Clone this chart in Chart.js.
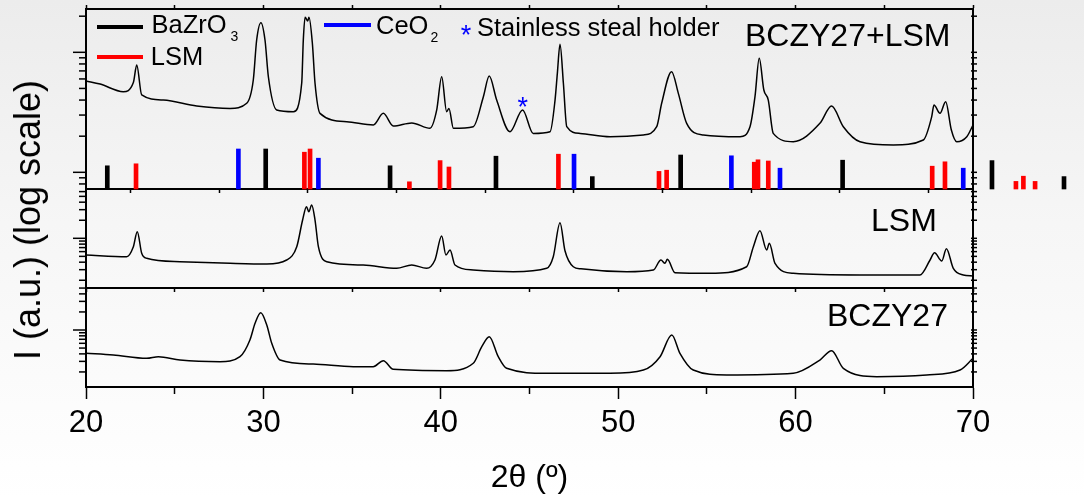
<!DOCTYPE html>
<html>
<head>
<meta charset="utf-8">
<title>XRD - BCZY27, LSM, BCZY27+LSM</title>
<script src="https://cdn.jsdelivr.net/npm/chart.js@4.4.1/dist/chart.umd.min.js"></script>
<style>
  html, body { margin: 0; padding: 0; }
  body { width: 1084px; height: 498px; overflow: hidden; font-family: "Liberation Sans", Arial, sans-serif; }
  #figure { position: relative; width: 1084px; height: 498px;
    background: linear-gradient(to bottom, #ececec 0%, #f6f6f6 45%, #ffffff 100%); }
  #figure canvas { position: absolute; left: 0; }
  .txt { position: absolute; line-height: 1; white-space: nowrap; color: #000; }
  .sub { position: relative; font-size: 14px; top: 8px; }
  .key { position: absolute; height: 4px; }
  .star { position: absolute; line-height: 1; font-size: 27px; color: #0000ff; }
</style>
</head>
<body>
<div id="figure">
  <canvas id="panel-mix" width="1084" height="200" style="top:0"></canvas>
  <canvas id="panel-lsm" width="1084" height="120" style="top:180px"></canvas>
  <canvas id="panel-bczy" width="1084" height="220" style="top:278px"></canvas>

  <!-- legend -->
  <div class="key" style="left:97px; top:25px; width:46px; background:#000"></div>
  <div class="txt" style="left:151.5px; top:11.7px; font-size:25.5px">BaZrO<span class="sub" style="margin-left:4px">3</span></div>
  <div class="key" style="left:97px; top:55px; width:46px; background:#ff0000"></div>
  <div class="txt" style="left:150.8px; top:44.4px; font-size:25.5px">LSM</div>
  <div class="key" style="left:324px; top:23px; width:47px; background:#0000ff"></div>
  <div class="txt" style="left:376px; top:13.4px; font-size:25.5px">CeO<span class="sub" style="margin-left:2px">2</span></div>
  <div class="star" style="left:460.7px; top:22.2px">*</div>
  <div class="txt" style="left:477px; top:15px; font-size:25.5px">Stainless steal holder</div>

  <!-- panel labels -->
  <div class="txt" style="left:745px; top:18.5px; font-size:32px">BCZY27+LSM</div>
  <div class="txt" style="left:871px; top:204.1px; font-size:32px">LSM</div>
  <div class="txt" style="left:827px; top:299.1px; font-size:32px">BCZY27</div>
  <div class="star" style="left:517.4px; top:94.4px">*</div>

  <div class="txt" style="left:28.3px; top:220px; font-size:36px; transform:translate(-50%,-50%) rotate(-90deg)">I (a.u.) (log scale)</div>
</div>

<script>
// --- data ---
const xTickValues = [20, 25, 30, 35, 40, 45, 50, 55, 60, 65, 70];
const xTickLabels = ['20', '', '30', '', '40', '', '50', '', '60', '', '70'];

// BCZY27+LSM (top panel)
const mixX = [20.0, 20.8, 22.1, 22.67, 22.86, 23.14, 24.36, 26.24, 28.12, 29.06, 29.43, 29.62, 29.86, 30.09, 30.28, 30.75,
  31.69, 32.16, 32.25, 32.35, 32.5, 32.57, 32.76, 32.91, 33.19, 34.7, 36.2, 36.76, 37.32, 38.36, 39.39, 39.77, 40.05,
  40.33, 40.46, 40.71, 41.83, 42.4, 42.73, 43.15, 43.9, 44.61, 45.21, 46.16, 46.44, 46.57, 46.72, 46.91, 47.1, 47.85,
  49.54, 51.42, 52.17, 52.45, 53.01, 53.39, 53.86, 54.8, 56.87, 57.43, 57.71, 57.95, 58.21, 58.46, 58.74, 59.87, 61.37,
  62.03, 62.69, 63.63, 65.51, 67.2, 67.67, 67.8, 68.14, 68.46, 68.78, 69.08, 69.65, 70.0];
const mixI = [577, 544, 470, 560, 784, 441, 400, 357, 341, 376, 588, 1266, 1766, 1266, 626, 331,
  320, 555, 1266, 1958, 1823, 1958, 1189, 552, 310, 264, 248, 310, 243, 258, 233, 331, 626,
  320, 341, 233, 240, 427, 634, 400, 218, 331, 211, 218, 400, 668, 1166, 552, 240, 211,
  198, 205, 240, 376, 690, 455, 256, 205, 198, 240, 427, 891, 485, 400, 211, 180, 256,
  357, 240, 180, 169, 186, 290, 364, 310, 388, 225, 180, 198, 248];

// LSM (middle panel)
const lsmX = [20.0, 22.29, 22.67, 22.89, 23.14, 23.42, 25.3, 28.12, 30.19, 31.31, 31.88, 32.21, 32.43, 32.56, 32.72,
  32.91, 33.1, 33.57, 35.63, 37.51, 38.36, 39.2, 39.67, 40.05, 40.29, 40.52, 40.8, 41.83, 44.09, 45.97, 46.34, 46.72,
  47.0, 47.47, 47.9, 50.48, 51.98, 52.41, 52.64, 52.77, 53.2, 55.17, 57.24, 57.62, 57.99, 58.37, 58.52, 58.84, 59.87,
  63.63, 67.01, 67.58, 67.83, 68.24, 68.5, 68.89, 69.45, 70.0];
const lsmI = [527, 493, 724, 1288, 562, 464, 407, 383, 373, 435, 724, 2018, 3365, 2775, 3589,
  2018, 724, 407, 359, 316, 359, 316, 435, 1092, 527, 638, 359, 296, 277, 316, 493, 1820,
  620, 336, 310, 277, 296, 435, 383, 447, 267, 261, 336, 724, 1340, 638, 826, 383, 261,
  245, 245, 435, 575, 420, 670, 316, 245, 235];

// BCZY27 (bottom panel)
const bczyX = [20.0, 21.54, 23.42, 24.08, 25.3, 27.55, 28.68, 29.24, 29.53, 29.85, 30.19, 30.47, 30.94, 32.81, 35.07,
  36.19, 36.76, 37.32, 40.33, 41.83, 42.31, 42.73, 43.24, 43.71, 45.97, 47.85, 49.54, 51.42, 52.36, 53.02, 53.48,
  54.23, 56.11, 59.87, 61.37, 62.03, 62.69, 64.57, 67.39, 69.27, 70.0];
const bczyI = [409, 383, 337, 359, 316, 296, 359, 681, 1294, 1941, 1212, 600, 316, 271, 245,
  245, 308, 221, 210, 279, 527, 773, 359, 230, 190, 190, 190, 215, 359, 826, 409,
  215, 178, 190, 316, 452, 230, 167, 178, 215, 337];

// reference patterns (relative intensity, %)
const bzoPos = [21.20, 30.13, 37.14, 43.11, 48.54, 53.52, 62.65, 71.07, 75.13];
const bzoInt = [58, 100, 58, 82, 31, 85, 72, 71, 31];
const lsmPos = [22.82, 32.31, 32.63, 38.23, 39.96, 40.46, 46.63, 52.30, 52.73, 57.67, 57.88, 58.46, 67.70, 68.42, 72.42, 72.84, 73.50];
const lsmInt = [63, 92, 100, 18, 71, 55, 87, 44, 47, 67, 73, 70, 57, 68, 19, 32, 19];
const ceoPos = [28.59, 33.10, 47.51, 56.38, 59.12, 69.45];
const ceoInt = [100, 77, 87, 83, 52, 52];

Chart.defaults.font.family = '"Liberation Sans", Arial, sans-serif';
Chart.defaults.color = '#000';

function pairs(xs, ys) {
  return xs.map((x, i) => ({ x: x, y: ys[i] }));
}

// 1..9 x 10^n inside the range
function logTicks(min, max) {
  const out = [];
  for (let e = Math.floor(Math.log10(min)); e <= Math.ceil(Math.log10(max)); e++) {
    for (let m = 1; m <= 9; m++) {
      const v = m * Math.pow(10, e);
      if (v > min && v < max) out.push({ value: v, major: m === 1 });
    }
  }
  return out;
}

// tick marks on the log axes: long for decades, short for the rest
const logTickMarks = {
  id: 'logTickMarks',
  afterDraw(chart) {
    const ctx = chart.ctx;
    ctx.save();
    ctx.strokeStyle = '#000';
    ctx.lineWidth = 1.5;
    ['y', 'yRight'].forEach(id => {
      const s = chart.scales[id];
      if (!s) return;
      logTicks(s.min, s.max).forEach(t => {
        const py = s.getPixelForValue(t.value);
        ctx.beginPath();
        if (s.position === 'left') {
          ctx.moveTo(s.right - (t.major ? 13 : 7), py);
          ctx.lineTo(s.right, py);
        } else {
          ctx.moveTo(s.left - 2, py);
          ctx.lineTo(s.left + 4, py);
        }
        ctx.stroke();
      });
    });
    ctx.restore();
  }
};

function logAxis(min, max, position) {
  return {
    type: 'logarithmic', position: position, min: min, max: max,
    afterBuildTicks: s => { s.ticks = logTicks(s.min, s.max); },
    afterFit: s => { s.width = position === 'left' ? 86 : 0; },
    ticks: { display: false },
    grid: { drawOnChartArea: false, drawTicks: false },
    border: { color: '#000', width: 2 }
  };
}

function xAxis(position, height, extra) {
  return Object.assign({
    type: 'linear', position: position, min: 20, max: 70, offset: false,
    afterBuildTicks: s => { s.ticks = xTickValues.map(v => ({ value: v, major: v % 10 === 0 })); },
    afterFit: s => { s.height = height; },
    ticks: { display: false },
    grid: { drawOnChartArea: false, tickLength: 4, tickWidth: 1.5, tickColor: '#000' },
    border: { color: '#000', width: 2 }
  }, extra || {});
}

function trace(xs, ys) {
  return {
    type: 'line', data: pairs(xs, ys), xAxisID: 'x', yAxisID: 'y',
    borderColor: '#000', borderWidth: 1.5, pointRadius: 0,
    cubicInterpolationMode: 'monotone'
  };
}

function sticks(xs, ys, color) {
  return {
    type: 'bar', data: pairs(xs, ys), xAxisID: 'x', yAxisID: 'ys',
    backgroundColor: color, borderWidth: 0, barThickness: 4, grouped: false, clip: false
  };
}

const common = {
  responsive: false,
  animation: false,
  devicePixelRatio: 1,
  plugins: { legend: { display: false }, tooltip: { enabled: false } },
  events: []
};

// top: BCZY27+LSM with the reference sticks
new Chart(document.getElementById('panel-mix'), {
  type: 'line',
  data: {
    datasets: [
      trace(mixX, mixI),
      sticks(bzoPos, bzoInt, '#000000'),
      sticks(lsmPos, lsmInt, '#ff0000'),
      sticks(ceoPos, ceoInt, '#0000ff')
    ]
  },
  options: Object.assign({}, common, {
    layout: { padding: { top: 9, right: 111, left: 0, bottom: 0 } },
    scales: {
      x: xAxis('bottom', 11),
      xTop: xAxis('top', 0),
      y: logAxis(72.6, 2296, 'left'),
      yRight: logAxis(72.6, 2296, 'right'),
      ys: { type: 'linear', min: 0, max: 450, display: false }
    }
  }),
  plugins: [logTickMarks]
});

// middle: LSM
new Chart(document.getElementById('panel-lsm'), {
  type: 'line',
  data: { datasets: [trace(lsmX, lsmI)] },
  options: Object.assign({}, common, {
    layout: { padding: { top: 9, right: 111, left: 0, bottom: 0 } },
    scales: {
      x: xAxis('bottom', 12),
      y: logAxis(148.5, 6633, 'left'),
      yRight: logAxis(148.5, 6633, 'right')
    }
  }),
  plugins: [logTickMarks]
});

// bottom: BCZY27, carries the 2θ axis
new Chart(document.getElementById('panel-bczy'), {
  type: 'line',
  data: { datasets: [trace(bczyX, bczyI)] },
  options: Object.assign({}, common, {
    layout: { padding: { top: 10, right: 111, left: 0, bottom: 0 } },
    scales: {
      x: xAxis('bottom', 111, {
        ticks: {
          display: true, autoSkip: false, maxRotation: 0, padding: 6,
          font: { size: 31 },
          callback: v => xTickLabels[xTickValues.indexOf(v)]
        },
        grid: {
          drawOnChartArea: false, tickLength: 12, tickWidth: 1.5, tickColor: '#000',
          tickBorderDash: ctx => (ctx.tick && ctx.tick.major) ? [] : [6, 30]
        },
        title: { display: true, text: '2θ (º)', font: { size: 32 }, padding: { top: 0, bottom: 1 } }
      }),
      y: logAxis(112.2, 5012, 'left'),
      yRight: logAxis(112.2, 5012, 'right')
    }
  }),
  plugins: [logTickMarks]
});
</script>
</body>
</html>
